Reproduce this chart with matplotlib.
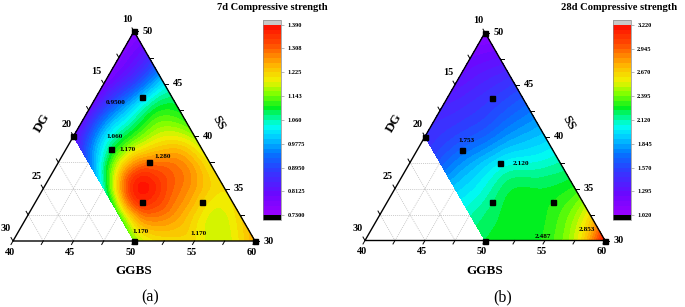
import numpy as np
import matplotlib
matplotlib.use("Agg")
import matplotlib.pyplot as plt
import matplotlib.tri as mtri
from matplotlib.colors import LinearSegmentedColormap, BoundaryNorm

# ---------------- data ----------------
# sample compositions (GGBS %, DG %); SS = 100 - GGBS - DG
ggbs_grid = [40, 42.5, 45, 47.5, 50, 52.5, 55, 57.5, 60,
             40, 42.5, 45, 47.5, 50, 52.5, 55, 57.5,
             40, 42.5, 45, 47.5, 50, 52.5, 55,
             40, 42.5, 45, 47.5, 50, 52.5,
             40, 42.5, 45, 47.5, 50]
dg_grid = [10] * 9 + [12.5] * 8 + [15] * 7 + [17.5] * 6 + [20] * 5

strength_7d = [0.76, 0.85, 1.02, 1.10, 1.16, 1.20, 1.21, 1.22, 1.26,
               0.77, 0.89, 1.08, 1.19, 1.28, 1.26, 1.19, 1.18,
               0.78, 0.96, 1.12, 1.29, 1.33, 1.26, 1.21,
               0.80, 1.00, 1.18, 1.36, 1.30, 1.21,
               0.79, 0.93, 1.05, 1.12, 1.15]

strength_28d = [1.10, 1.30, 1.52, 1.72, 1.92, 2.12, 2.30, 2.62, 3.20,
                1.24, 1.42, 1.60, 1.83, 2.06, 2.23, 2.34, 2.52,
                1.31, 1.49, 1.68, 2.00, 2.23, 2.25, 2.30,
                1.42, 1.57, 1.83, 2.07, 2.23, 2.25,
                1.46, 1.64, 1.92, 2.11, 2.23]

# experimental mix points (black squares)
mix_ggbs = [40, 40, 50, 60, 43.75, 43.75, 47.5, 48.75, 53.75]
mix_dg = [10, 20, 20, 10, 12.5, 17.5, 15, 17.5, 12.5]

# colour-bar ranges and ticks
cbar_7d_ticks = [0.7300, 0.8125, 0.8950, 0.9775, 1.060, 1.143, 1.225, 1.308, 1.390]
cbar_7d_labels = ["0.7300", "0.8125", "0.8950", "0.9775", "1.060", "1.143", "1.225", "1.308", "1.390"]
cbar_28d_ticks = [1.020, 1.295, 1.570, 1.845, 2.120, 2.395, 2.670, 2.945, 3.220]
cbar_28d_labels = ["1.020", "1.295", "1.570", "1.845", "2.120", "2.395", "2.670", "2.945", "3.220"]

# value labels inside the plots: (text, GGBS, DG)
labels_7d = [("0.9500", 41.9, 14.9), ("1.060", 43.4, 16.6), ("1.170", 45.1, 16.2),
             ("1.280", 48.3, 13.6), ("1.170", 50.1, 19.0), ("1.170", 55.0, 14.3)]
labels_28d = [("1.753", 43.7, 16.7), ("2.120", 49.3, 13.3),
              ("2.487", 54.6, 15.0), ("2.853", 57.9, 11.0)]

ggbs_ticks = [40, 45, 50, 55, 60]
dg_ticks = [10, 15, 20, 25, 30]
ss_ticks = [50, 45, 40, 35, 30]

# ---------------- helpers ----------------
W, H = 685, 307
SQ = np.sqrt(3) / 2
SERIF = "Liberation Serif"


def tern(g, d):
    g = np.asarray(g, float)
    d = np.asarray(d, float)
    s = 100 - g - d
    wc = (g - 40) / 20
    wa = (s - 30) / 20
    return wc + 0.5 * wa, wa * SQ


cmap = LinearSegmentedColormap.from_list("origin_rainbow", [
    (0.00, "#a000ff"), (0.12, "#6a08ff"), (0.25, "#2a40ff"), (0.33, "#0078ff"),
    (0.42, "#00d8ff"), (0.47, "#00fff0"), (0.56, "#00f020"), (0.63, "#80ff00"),
    (0.70, "#f0f000"), (0.78, "#ffb400"), (0.88, "#ff5000"), (1.00, "#ff0000")])
cmap.set_under("black")
cmap.set_over("#c8c8c8")

fig = plt.figure(figsize=(W / 100, H / 100), dpi=100)


def panel(Bpx, scale, values, ticks, ticklabels, title, title_x, cax_x, labels, plabel, plabel_x):
    bx, by = Bpx
    x0, x1, y0, y1 = -0.06, 1.1, -0.06, 0.95
    lp, rp = bx + x0 * scale, bx + x1 * scale
    bp, tp = by - y0 * scale, by - y1 * scale
    ax = fig.add_axes([lp / W, 1 - bp / H, (rp - lp) / W, (bp - tp) / H])
    ax.set_xlim(x0, x1)
    ax.set_ylim(y0, y1)
    ax.axis("off")
    ax.patch.set_visible(False)
    px = 1.0 / scale  # one pixel in data units

    # grid (2.5 spacing) behind the fill
    gk = dict(color="#b8b8b8", lw=0.5, ls=(0, (1.5, 1.5)), zorder=1)
    for v in np.arange(42.5, 60, 2.5):
        xa, ya = tern([v, v], [70 - v, 10])
        ax.plot(xa, ya, **gk)
    for v in np.arange(12.5, 30, 2.5):
        xa, ya = tern([40, 70 - v], [v, v])
        ax.plot(xa, ya, **gk)
    for v in np.arange(32.5, 50, 2.5):
        xa, ya = tern([40, 90 - v], [60 - v, 10])
        ax.plot(xa, ya, **gk)

    # contour fill
    xs, ys = tern(ggbs_grid, dg_grid)
    tr = mtri.Triangulation(xs, ys)
    refiner = mtri.UniformTriRefiner(tr)
    tr2, z2 = refiner.refine_field(np.asarray(values, float), subdiv=4)
    vmin, vmax = ticks[0], ticks[-1]
    levels = np.linspace(vmin, vmax, 41)
    norm = BoundaryNorm(levels, cmap.N, extend="both")
    cs = ax.tricontourf(tr2, z2, levels=levels, cmap=cmap, norm=norm, extend="both", zorder=2)

    # triangle outline
    xo, yo = tern([40, 40, 60, 40], [10, 30, 10, 10])
    ax.plot(xo, yo, color="black", lw=1.0, zorder=5, solid_joinstyle="miter")

    tk = dict(color="black", lw=0.7, zorder=5, clip_on=False)
    tl = 4 * px
    fs = 7.3
    tf = dict(fontsize=fs, fontweight="bold", family=SERIF, ha="center", va="center", zorder=6)
    # bottom axis (GGBS)
    for v in np.arange(40, 60.1, 2.5):
        x, y = tern(v, 70 - v)
        ax.plot([x, x - 0.5 * tl], [y, y - SQ * tl], **tk)
    for v in ggbs_ticks:
        x, y = tern(v, 70 - v)
        ax.text(x - 3 * px, y - 11.5 * px, str(v), **tf)
    # left axis (DG)
    for v in np.arange(10, 30.1, 2.5):
        x, y = tern(40, v)
        ax.plot([x, x - 0.5 * tl], [y, y + SQ * tl], **tk)
    for v in dg_ticks:
        x, y = tern(40, v)
        ax.text(x - 0.5 * 14 * px, y + SQ * 14 * px, str(v), **tf)
    # right axis (SS)
    for v in np.arange(30, 50.1, 2.5):
        x, y = tern(90 - v, 10)
        ax.plot([x, x + tl], [y, y], **tk)
    for v in ss_ticks:
        x, y = tern(90 - v, 10)
        ax.text(x + 14 * px, y, str(v), **tf)

    # axis titles
    af = dict(fontsize=9.5, fontweight="bold", family=SERIF, ha="center", va="center")
    ax.text(0.12, 0.49, "DG", rotation=60, **af)
    ax.text(0.85, 0.49, "SS", rotation=-60, **af)
    ax.text(0.50, -0.125, "GGBS", **af)

    # mix points
    mx, my = tern(mix_ggbs, mix_dg)
    ax.plot(mx, my, ls="none", marker="s", ms=3.6, color="black", zorder=7, clip_on=False)

    # value labels
    for txt, g, d in labels:
        x, y = tern(g, d)
        ax.text(x, y, txt, fontsize=5.2, fontweight="bold", family=SERIF,
                ha="center", va="center", zorder=8)

    # colour bar
    cax = fig.add_axes([cax_x / W, 1 - 220 / H, 18 / W, 200 / H])
    cb = fig.colorbar(cs, cax=cax, extend="both", extendrect=True, extendfrac=0.025,
                      ticks=ticks, drawedges=False)
    cb.minorticks_off()
    cb.ax.set_yticklabels(ticklabels)
    cb.ax.tick_params(axis="y", which="major", length=2.5, width=0.5, color="#999999",
                      pad=2, labelsize=4.6)
    for lab in cb.ax.get_yticklabels():
        lab.set_fontfamily(SERIF)
        lab.set_fontweight("bold")
    cb.outline.set_edgecolor("#888888")
    cb.outline.set_linewidth(0.5)

    fig.text(title_x / W, 1 - 7 / H, title, fontsize=7.6, fontweight="bold",
             family=SERIF, ha="center", va="center")
    fig.text(plabel_x / W, 1 - 297 / H, plabel, fontsize=11.5, family=SERIF,
             ha="center", va="center")


panel((13, 241), 242, strength_7d, cbar_7d_ticks, cbar_7d_labels,
      "7d Compressive strength", 272, 263, labels_7d, "(a)", 150)
panel((365, 240.5), 240, strength_28d, cbar_28d_ticks, cbar_28d_labels,
      "28d Compressive strength", 619, 613, labels_28d, "(b)", 503)

fig.savefig("out.png", dpi=100)
